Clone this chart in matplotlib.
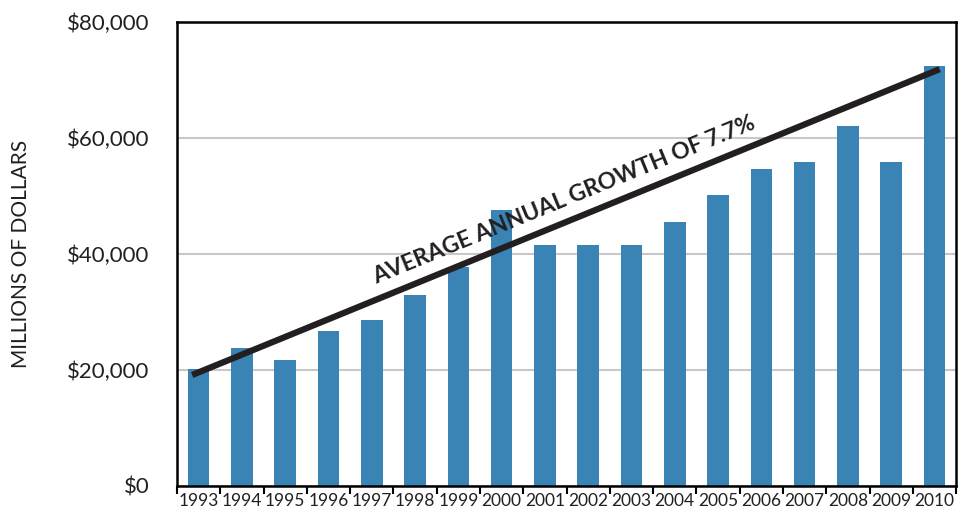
import numpy as np
import matplotlib.pyplot as plt
from matplotlib.ticker import FuncFormatter

plt.rcParams['font.family'] = ['Lato', 'DejaVu Sans']

years = list(range(1993, 2011))
values = [20200, 23800, 21700, 26800, 28700, 33000, 37700, 47600, 41500,
          41500, 41500, 45600, 50200, 54700, 55900, 62100, 55900, 72400]
trend_years = [1993, 2010]
trend_values = [19600, 71500]
y_ticks = [0, 20000, 40000, 60000, 80000]

bar_color = "#3a84b5"

fig = plt.figure(figsize=(9.58, 5.2), dpi=100)
ax = fig.add_axes([0.1848, 0.0654, 0.8132, 0.8923])

x = np.arange(len(years))
ax.bar(x, values, width=0.5, color=bar_color, zorder=2)

# trend line
tx = [years.index(y) for y in trend_years]
ax.plot([tx[0] - 0.15, tx[1] + 0.12],
        [trend_values[0] - 0.15 * (trend_values[1] - trend_values[0]) / 17,
         trend_values[1] + 0.12 * (trend_values[1] - trend_values[0]) / 17],
        color="#231f20", linewidth=4.5, solid_capstyle="butt", zorder=3)

ax.set_xlim(-0.5, len(years) - 0.5)
ax.set_ylim(0, 80000)
ax.set_yticks(y_ticks)
ax.yaxis.set_major_formatter(FuncFormatter(lambda v, p: f"${v:,.0f}"))
ax.tick_params(axis="y", length=0, labelsize=16, pad=20, labelcolor="#231f20")
ax.yaxis.grid(True, color="#c8c8c8", linewidth=1.5, zorder=1)
ax.set_axisbelow(True)

ax.set_xticks(x)
ax.set_xticklabels([str(y) for y in years])
ax.set_xticks(np.arange(-0.5, len(years)), minor=True)
ax.tick_params(axis="x", which="major", length=0, labelsize=12.5, pad=5, labelcolor="#231f20")
ax.tick_params(axis="x", which="minor", length=6, width=1.5, color="black")

for s in ax.spines.values():
    s.set_linewidth(1.8)
    s.set_color("black")

ax.set_ylabel("MILLIONS OF DOLLARS", fontsize=15, color="#231f20", labelpad=26)

# rotated annotation along the trend
p1 = ax.transData.transform((tx[0], trend_values[0]))
p2 = ax.transData.transform((tx[1], trend_values[1]))
angle = np.degrees(np.arctan2(p2[1] - p1[1], p2[0] - p1[0]))
ax.text(8.43, 49300, "AVERAGE ANNUAL GROWTH OF 7.7%", rotation=angle,
        rotation_mode="anchor", ha="center", va="center", fontsize=16.5,
        fontweight="bold", color="#231f20", zorder=4)

fig.savefig("out.png", dpi=100)
